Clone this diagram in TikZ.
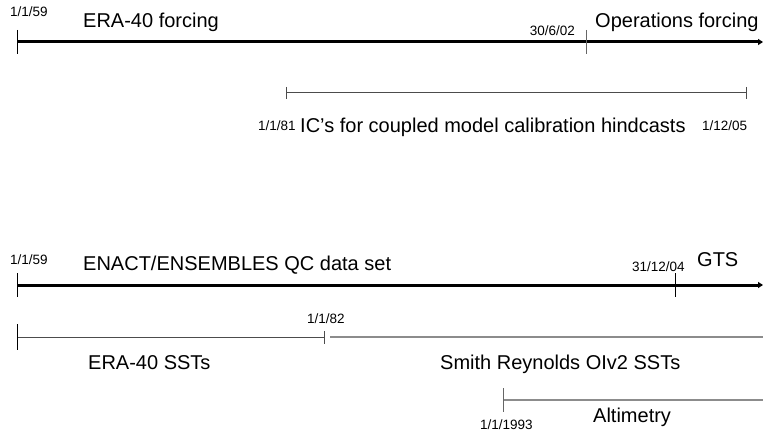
\documentclass[tikz,border=0pt]{standalone}
\usepackage{fontspec}
\setmainfont{Liberation Sans}
\usetikzlibrary{arrows.meta}

\begin{document}
\begin{tikzpicture}[x=1pt, y=-1pt,
   biglbl/.style={anchor=base west, inner sep=0pt, font=\fontsize{20}{24}\selectfont},
   datelbl/.style={anchor=base west, inner sep=0pt, font=\fontsize{13.5}{16}\selectfont},
   thickline/.style={line width=3pt, -{Triangle[length=5pt,width=6pt]}},
   thinline/.style={line width=1pt, color=black!70},
   ticklin/.style={line width=1pt}]
   \useasboundingbox (0,0) rectangle (763,433);
   % ERA-40 / operations forcing
   \node[datelbl] (d59a) at (10,17) {1/1/59};
   \node[biglbl] (era) at (83,28) {ERA-40 forcing};
   \node[datelbl, anchor=base east] (d02) at (575,36) {30/6/02};
   \node[biglbl] (ops) at (595,28) {Operations forcing};
   \coordinate (fs) at (17,42);
   \coordinate (fe) at (763,42);
   \draw[thickline] (fs) -- (fe);
   \draw[ticklin] (17,30) -- (17,54);
   \draw[ticklin, color=black!60] (586,30) -- (586,54);
   % hindcast ICs
   \coordinate (hs) at (286,93);
   \coordinate (he) at (746,93);
   \draw[thinline] (hs) -- (he);
   \draw[thinline] (286,87) -- (286,99);
   \draw[thinline] (746,87) -- (746,99);
   \node[datelbl] (d81) at (258,131) {1/1/81};
   \node[biglbl] (ics) at (300,132) {IC's for coupled model calibration hindcasts};
   \node[datelbl] (d05) at (702,131) {1/12/05};
   % ocean data sets
   \node[datelbl] (d59b) at (10,264) {1/1/59};
   \node[biglbl] (enact) at (83,270) {ENACT/ENSEMBLES QC data set};
   \node[datelbl] (d04) at (632,271) {31/12/04};
   \node[biglbl] (gts) at (697,266) {GTS};
   \coordinate (os) at (17,285);
   \coordinate (oe) at (763,285);
   \draw[thickline] (os) -- (oe);
   \draw[ticklin] (17,273) -- (17,297);
   \draw[ticklin] (675,273) -- (675,297);
   % SSTs
   \coordinate (ss) at (17,337);
   \coordinate (sm) at (324,337);
   \coordinate (rs) at (330,337);
   \coordinate (re) at (763,337);
   \draw[thinline] (ss) -- (sm);
   \draw[line width=1.5pt, color=black!45] (rs) -- (re);
   \draw[ticklin] (17,324) -- (17,350);
   \draw[thinline] (324,331) -- (324,344);
   \node[datelbl] (d82) at (307,323) {1/1/82};
   \node[biglbl] (erasst) at (88,369) {ERA-40 SSTs};
   \node[biglbl] (oisst) at (440,369) {Smith Reynolds OIv2 SSTs};
   % altimetry
   \coordinate (as) at (503,400);
   \coordinate (ae) at (763,400);
   \draw[line width=1.5pt, color=black!45] (as) -- (ae);
   \draw[ticklin, color=black!60] (503,388) -- (503,412);
   \node[datelbl] (d93) at (480,429) {1/1/1993};
   \node[biglbl] (alt) at (593,422) {Altimetry};
\end{tikzpicture}
\end{document}
